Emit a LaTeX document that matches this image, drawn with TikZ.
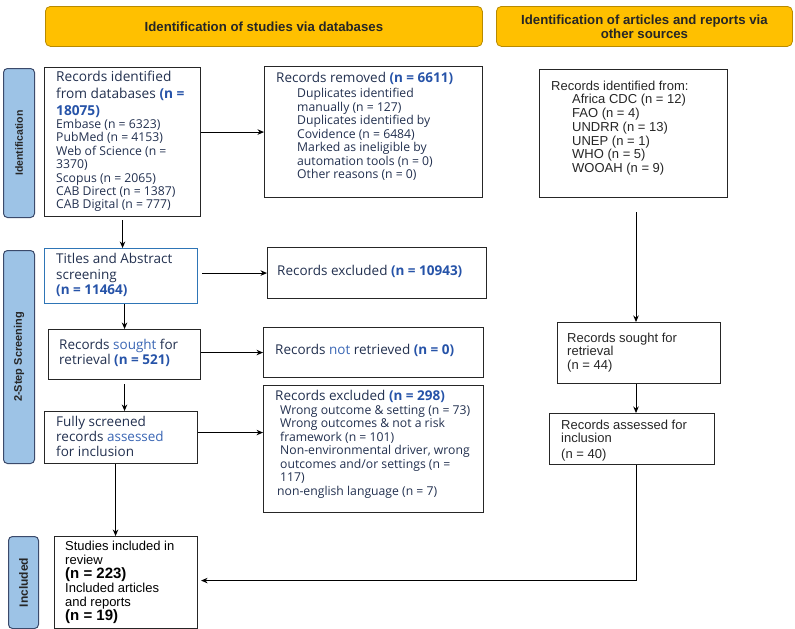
\documentclass[tikz,border=0pt]{standalone}
\usepackage{fontspec}
\setmainfont{Open Sans}
\newfontfamily\arl{Liberation Sans}
\usetikzlibrary{arrows.meta}
\definecolor{navy}{HTML}{22304F}
\definecolor{nb}{HTML}{2653A8}
\definecolor{mb}{HTML}{3A66B4}
\definecolor{gold}{HTML}{FFC000}
\definecolor{goldline}{HTML}{B88A00}
\definecolor{barfill}{HTML}{9DC3E6}
\definecolor{barline}{HTML}{3B4A6B}
\definecolor{boxline}{HTML}{262626}
\definecolor{tiline}{HTML}{2E75B6}
\begin{document}
\begin{tikzpicture}[x=1pt,y=-1pt,
  hdr/.style={draw=goldline, fill=gold, line width=0.8pt, rounded corners=5pt, inner sep=0pt, anchor=north west, align=center, font=\arl\bfseries\fontsize{13.2}{14}\selectfont, text=black!85},
  sidebar/.style={draw=barline, fill=barfill, line width=1pt, rounded corners=4pt, inner sep=0pt, anchor=north west},
  sidetxt/.style={rotate=90, font=\arl\bfseries, text=black!85, inner sep=0pt},
  bx/.style={draw=boxline, line width=1.1pt, inner sep=0pt, anchor=north west},
  txt/.style={inner sep=0pt, align=left, anchor=north west, text=navy},
  big/.style={txt, font=\fontsize{13.5}{15.5}\selectfont},
  small/.style={txt, font=\fontsize{12.2}{13.5}\selectfont},
  rtxt/.style={inner sep=0pt, align=left, anchor=north west, text=black!85, font=\arl\fontsize{13}{13.7}\selectfont},
  arr/.style={-{Stealth[length=6.5pt,width=5.5pt]}, line width=0.9pt, draw=black}
]
\useasboundingbox (0,0) rectangle (795,629);

% headers
\node[hdr, minimum width=437, minimum height=40] (h1) at (45,6) {Identification of studies via databases};
\node[hdr, minimum width=296, minimum height=40] (h2) at (496,6) {Identification of articles and reports via\\other sources};

% side bars
\node[sidebar, minimum width=31, minimum height=149] (s1) at (3,68) {};
\node[sidetxt, font=\arl\bfseries\fontsize{10.5}{12}\selectfont] (s1t) at (s1.center) {Identification};
\node[sidebar, minimum width=31, minimum height=213] (s2) at (3,250) {};
\node[sidetxt, font=\arl\bfseries\fontsize{11}{12}\selectfont] (s2t) at (s2.center) {2-Step Screening};
\node[sidebar, minimum width=30, minimum height=92] (s3) at (8,536) {};
\node[sidetxt, font=\arl\bfseries\fontsize{12}{13}\selectfont] (s3t) at (s3.center) {Included};

% boxes
\node[bx, minimum width=156, minimum height=149] (b1) at (44,67) {};
\node[bx, minimum width=218, minimum height=131] (rm) at (264,66) {};
\node[bx, minimum width=188, minimum height=128] (os) at (539,69) {};
\node[bx, draw=tiline, minimum width=153, minimum height=55] (ti) at (44,248) {};
\node[bx, minimum width=219, minimum height=51] (ex1) at (267,247) {};
\node[bx, minimum width=152, minimum height=50] (so) at (48,329) {};
\node[bx, minimum width=220, minimum height=50] (nr) at (263,327) {};
\node[bx, minimum width=153, minimum height=52] (fu) at (44,411) {};
\node[bx, minimum width=220, minimum height=127] (ex2) at (263,385) {};
\node[bx, minimum width=163, minimum height=61] (rs) at (557,322) {};
\node[bx, minimum width=165, minimum height=51] (ra) at (549,413) {};
\node[bx, minimum width=143, minimum height=92] (inc) at (54,536) {};

% texts
\node[txt, font=\fontsize{13.7}{17}\selectfont] (b1a) at (56,71.3) {Records identified\\from databases {\bfseries\color{nb}(n =}\\{\bfseries\color{nb}18075)}};
\node[small, font=\fontsize{12.2}{13.4}\selectfont] (b1b) at (56,119) {Embase (n = 6323)\\PubMed (n = 4153)\\Web of Science (n =\\3370)\\Scopus (n = 2065)\\CAB Direct (n = 1387)\\CAB Digital (n = 777)};

\node[txt, font=\fontsize{13.5}{16}\selectfont] (rma) at (276,72.4) {Records removed {\bfseries\color{nb}(n = 6611)}};
\node[small] (rmb) at (297,88) {Duplicates identified\\manually (n = 127)\\Duplicates identified by\\Covidence (n = 6484)\\Marked as ineligible by\\automation tools (n = 0)\\Other reasons (n = 0)};

\node[rtxt] (ost) at (551,80.6) {Records identified from:\\\hspace*{21pt}Africa CDC (n = 12)\\\hspace*{21pt}FAO (n = 4)\\\hspace*{21pt}UNDRR (n = 13)\\\hspace*{21pt}UNEP (n = 1)\\\hspace*{21pt}WHO (n = 5)\\\hspace*{21pt}WOOAH (n = 9)};

\node[big] (tit) at (56,253.4) {Titles and Abstract\\screening\\{\bfseries\color{nb}(n = 11464)}};
\node[big] (ex1t) at (277,265.4) {Records excluded {\bfseries\color{nb}(n = 10943)}};
\node[big, font=\fontsize{13.5}{15}\selectfont] (sot) at (59,339.4) {Records {\color{mb}sought} for\\retrieval {\bfseries\color{nb}(n = 521)}};
\node[big] (nrt) at (275,344.4) {Records {\color{mb}not} retrieved {\bfseries\color{nb}(n = 0)}};
\node[big, font=\fontsize{13.5}{15}\selectfont] (fut) at (56,416.4) {Fully screened\\records {\color{mb}assessed}\\for inclusion};
\node[big] (ex2a) at (275,390.4) {Records excluded {\bfseries\color{nb}(n = 298)}};
\node[small] (ex2b) at (280,405) {Wrong outcome \& setting (n = 73)\\Wrong outcomes \& not a risk\\framework (n = 101)\\Non-environmental driver, wrong\\outcomes and/or settings (n =\\117)\\\hspace*{-3pt}non-english language (n = 7)};

\node[rtxt, font=\arl\fontsize{13}{13.5}\selectfont] (rst) at (567,332.6) {Records sought for\\retrieval\\(n = 44)};
\node[rtxt, font=\arl\fontsize{13}{13}\selectfont] (rat) at (561,419.6) {Records assessed for\\inclusion\\[3pt](n = 40)};

\node[rtxt, text=black, font=\arl\fontsize{13}{14}\selectfont] (inct) at (65,540.6) {Studies included in\\review\\{\fontsize{15}{14}\selectfont\bfseries (n = 223)}\\Included articles\\and reports\\{\fontsize{15}{14}\selectfont\bfseries (n = 19)}};

% connectors
\coordinate (rc) at (636,0);
\draw[arr] (rm.west -| b1.east) -- (rm.west);
\draw[arr, shorten <=3pt] (b1.south) -- (b1.south |- ti.north);
\draw[arr, shorten <=4pt] (ex1.west -| ti.east) -- (ex1.west);
\draw[arr] (ti.south -| so.north) -- (so.north);
\draw[arr] (nr.west -| so.east) -- (nr.west);
\draw[arr, shorten <=4pt] (so.south) -- (so.south |- fu.north);
\draw[arr] ([yshift=5pt]fu.east) -- ([yshift=5pt]fu.east -| ex2.west);
\draw[arr] ([xshift=-5.5pt]fu.south) -- ([xshift=-5.5pt]fu.south |- inc.north);
\draw[arr, shorten <=14pt] (os.south -| rc) -- (rs.north -| rc);
\draw[arr] (rs.south -| rc) -- (ra.north -| rc);
\draw[arr, shorten >=3pt] (ra.south -| rc) -- ([yshift=2pt]inc.east -| rc) -- ([yshift=2pt]inc.east);
\end{tikzpicture}
\end{document}
